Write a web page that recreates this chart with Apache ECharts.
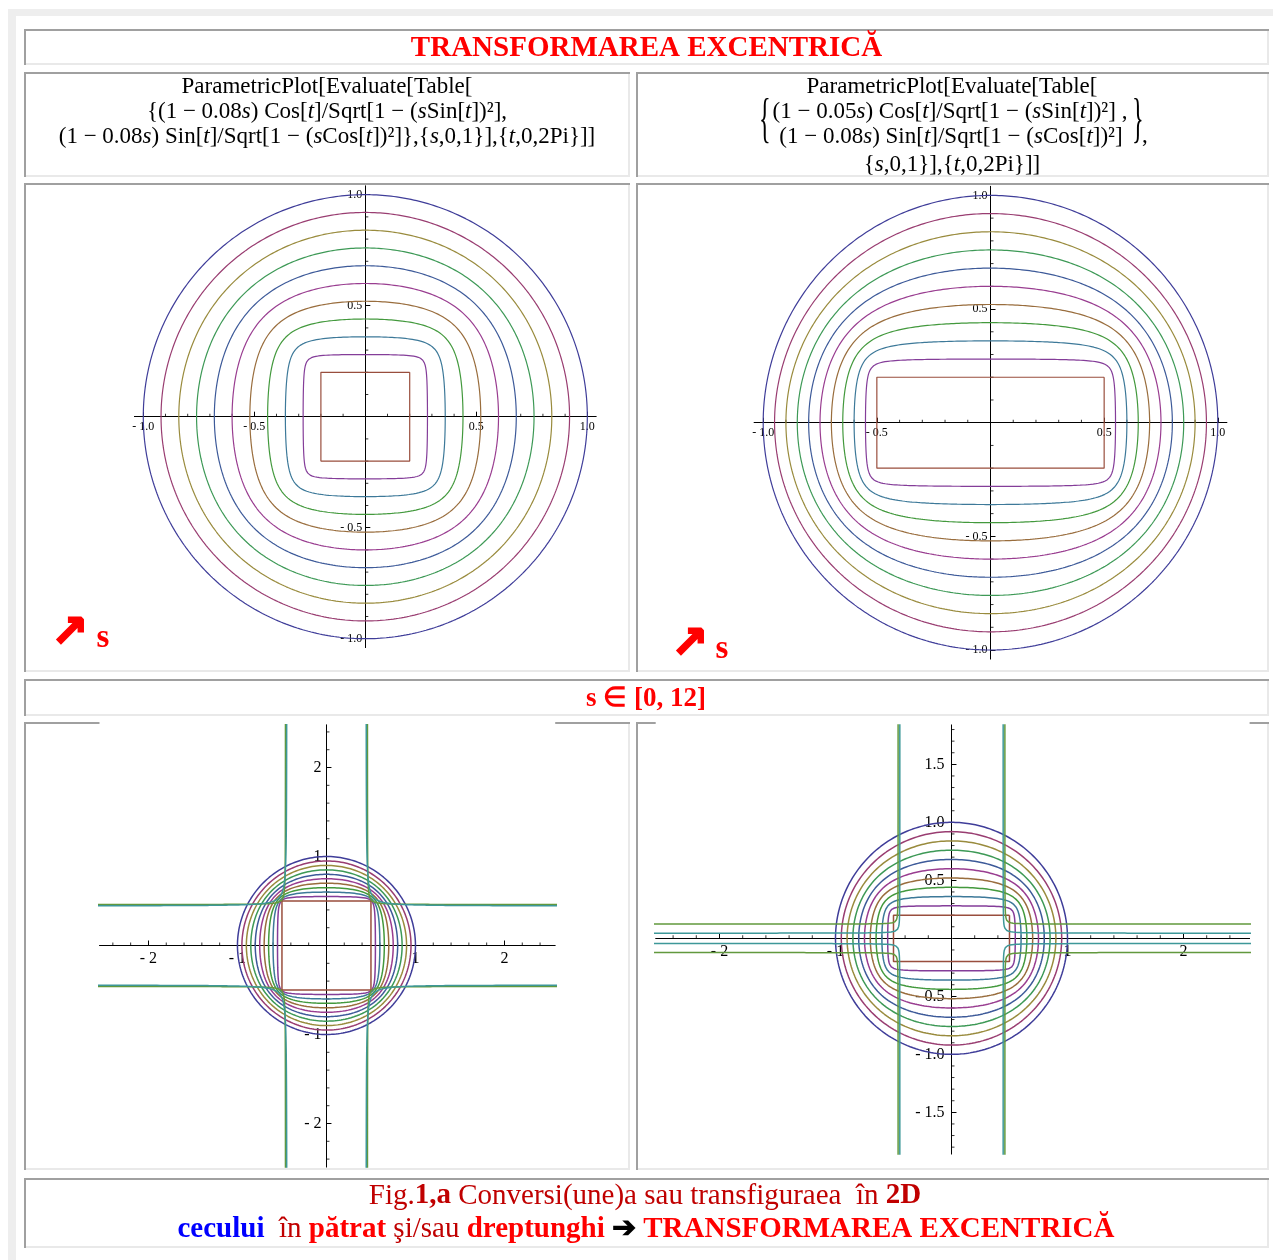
<!DOCTYPE html>
<html>
<head>
<meta charset="utf-8">
<title>Transformarea excentrică</title>
<script src="https://cdn.jsdelivr.net/npm/echarts@6/dist/echarts.min.js"></script>
<style>
  html, body { margin: 0; padding: 0; background: #fff; }
  #chart { width: 1273px; height: 1260px; }
</style>
</head>
<body>
<div id="chart"></div>
<script>
// ---- curve parameters -------------------------------------------------
// values of s drawn in the upper row and in the lower row (s in [0, 12])
const sUpper = [0, 1, 2, 3, 4, 5, 6, 7, 8, 9, 10];
const sLower = [0, 1, 2, 3, 4, 5, 6, 7, 8, 9, 10, 11, 12];
// shrink of the x and y semi-axes per unit of s, panels: TL, TR, BL, BR
const shrinkX = [0.08, 0.05, 0.05, 0.05];
const shrinkY = [0.08, 0.08, 0.05, 0.08];
// plot ranges of each panel
const rangeX = [[-1.04, 1.04], [-1.04, 1.04], [-2.55, 2.57], [-2.55, 2.57]];
const rangeY = [[-1.04, 1.04], [-1.04, 1.04], [-2.49, 2.48], [-1.86, 1.84]];
// labelled ticks
const ticksUpper = [-1.0, -0.5, 0.5, 1.0];
const ticksLowerInt = [-2, -1, 1, 2];
const ticksLowerRightY = [-1.5, -1.0, -0.5, 0.5, 1.0, 1.5];

// default plot colours, one per value of s
const curveColors = ['#3f3d99', '#993d71', '#998b3d', '#3d9956', '#3d5a99', '#993d90', '#996d3d',
                     '#43993d', '#3d7999', '#843d99', '#994e3d', '#62993d', '#3d9899'];

const SERIF = "'Liberation Serif', 'Times New Roman', serif";

// ---- layout -------------------------------------------------------------
const gridBoxes = [
  { left: 134.4, top: 185.8, width: 461.8, height: 461.8 },
  { left: 754.1, top: 186.3, width: 472.8, height: 472.8 },
  { left: 99.5,  top: 724.8, width: 455.7, height: 442.3 },
  { left: 655.7, top: 724.9, width: 593.9, height: 429.2 }
];
const cells = [
  [24, 29, 1245, 36],
  [24, 72, 606, 105], [636, 72, 633, 105],
  [24, 183, 606, 489], [636, 183, 633, 489],
  [24, 679, 1245, 37],
  [24, 722, 606, 448], [636, 722, 633, 448],
  [24, 1178, 1245, 70]
];

// x = (1 - ax s) cos t / sqrt(1 - (k sin t)^2), y = (1 - ay s) sin t / sqrt(1 - (k cos t)^2), k = s/10
function curvePieces(s, ax, ay) {
  const k = s / 10, rx = 1 - ax * s, ry = 1 - ay * s;
  const pt = t => {
    const c = Math.cos(t), si = Math.sin(t);
    return [rx * c / Math.sqrt(1 - (k * si) * (k * si)), ry * si / Math.sqrt(1 - (k * c) * (k * c))];
  };
  if (k <= 1) {
    const N = 1440, pts = [];
    for (let i = 0; i <= N; i++) pts.push(pt(2 * Math.PI * (i + 0.5) / N));
    return [pts];
  }
  // k > 1: the curve is real only on four open arcs, one per quadrant
  const a = Math.acos(1 / k), b = Math.asin(1 / k), M = 900, pieces = [];
  for (let q = 0; q < 4; q++) {
    const pts = [];
    for (let i = 1; i < M; i++) {
      const u = i / M;
      pts.push(pt(q * Math.PI / 2 + a + (b - a) * (1 - Math.cos(Math.PI * u)) / 2));
    }
    pieces.push(pts);
  }
  return pieces;
}

function minorTicks(lo, hi, step, major) {
  const out = [];
  for (let n = Math.ceil(lo / step - 1e-9); n * step <= hi + 1e-9; n++) {
    const v = +(n * step).toFixed(6);
    if (Math.abs(v) < 1e-9) continue;
    if (Math.abs(v / major - Math.round(v / major)) < 1e-6) continue;
    out.push(v);
  }
  return out;
}

const fmt1 = v => (v < 0 ? '- ' : '') + Math.abs(v).toFixed(1);
const fmt0 = v => (v < 0 ? '- ' : '') + Math.abs(v).toFixed(0);

const panels = [
  { s: sUpper, xt: ticksUpper, yt: ticksUpper, xf: fmt1, yf: fmt1, fs: 12, xm: 4, ym: 3, lw: 1.2,
    xminor: minorTicks(-1, 1, 0.1, 0.5), yminor: minorTicks(-1, 1, 0.1, 0.5) },
  { s: sUpper, xt: ticksUpper, yt: ticksUpper, xf: fmt1, yf: fmt1, fs: 12, xm: 4, ym: 3, lw: 1.2,
    xminor: minorTicks(-1, 1, 0.1, 0.5), yminor: minorTicks(-1, 1, 0.1, 0.5) },
  { s: sLower, xt: ticksLowerInt, yt: ticksLowerInt, xf: fmt0, yf: fmt0, fs: 16, xm: 5, ym: 5, lw: 1.5,
    xminor: minorTicks(-2.4, 2.4, 0.2, 1), yminor: minorTicks(-2.4, 2.4, 0.2, 1) },
  { s: sLower, xt: ticksLowerInt, yt: ticksLowerRightY, xf: fmt0, yf: fmt1, fs: 16, xm: 5, ym: 7, lw: 1.5,
    xminor: minorTicks(-2.4, 2.4, 0.2, 1), yminor: minorTicks(-1.8, 1.8, 0.1, 0.5) }
];

// axes cross at the origin: shift each axis from the grid edge onto the zero line
function makeAxis(p, range, ticks, fmt, fs, margin, position, span, otherRange) {
  const toZero = (0 - otherRange[0]) / (otherRange[1] - otherRange[0]) * span;
  return {
    type: 'value', gridIndex: p, min: range[0], max: range[1], z: 3,
    position: position, offset: -toZero,
    axisLine: { show: true, onZero: false, lineStyle: { color: '#000', width: 1 } },
    axisTick: { show: true, inside: true, length: 5, customValues: ticks, lineStyle: { color: '#000', width: 1 } },
    minorTick: { show: false },
    axisLabel: { show: true, customValues: ticks, formatter: fmt, fontFamily: SERIF, fontSize: fs, color: '#000', margin: margin },
    splitLine: { show: false }
  };
}

const xAxis = [], yAxis = [], series = [];
panels.forEach((P, p) => {
  const g = gridBoxes[p];
  xAxis.push(makeAxis(p, rangeX[p], P.xt, P.xf, P.fs, P.xm, 'bottom', g.height, rangeY[p]));
  yAxis.push(makeAxis(p, rangeY[p], P.yt, P.yf, P.fs, P.ym, 'left', g.width, rangeX[p]));
  P.s.forEach((s, i) => {
    curvePieces(s, shrinkX[p], shrinkY[p]).forEach(pts => {
      series.push({
        type: 'line', xAxisIndex: p, yAxisIndex: p, data: pts, z: 4,
        showSymbol: false, symbol: 'none', silent: true, animation: false, clip: true,
        lineStyle: { color: curveColors[i], width: P.lw }, itemStyle: { color: curveColors[i] }
      });
    });
  });
  // minor ticks along both axes
  series.push({
    type: 'scatter', xAxisIndex: p, yAxisIndex: p, z: 3, silent: true, animation: false,
    data: P.xminor.map(v => [v, 0]), symbol: 'rect', symbolSize: [1, 3], symbolOffset: [0, -1.5],
    itemStyle: { color: '#000' }
  });
  series.push({
    type: 'scatter', xAxisIndex: p, yAxisIndex: p, z: 3, silent: true, animation: false,
    data: P.yminor.map(v => [0, v]), symbol: 'rect', symbolSize: [3, 1], symbolOffset: [1.5, 0],
    itemStyle: { color: '#000' }
  });
});

// ---- frame and texts ----------------------------------------------------
function fontOf(st) {
  return `${st.fontStyle || 'normal'} ${st.fontWeight || 'normal'} ${st.fontSize}px ${st.fontFamily}`;
}
function txt(x, y, text, o) {
  const base = { fontFamily: o.family || SERIF, fontSize: o.size, fontWeight: o.weight || 'normal', fontStyle: 'normal' };
  const color = o.color || '#000';
  const rich = {};
  Object.keys(o.rich || {}).forEach(k => {
    const st = Object.assign({}, base, { fill: color }, o.rich[k]);
    st.color = st.fill;
    st.font = fontOf(st);
    rich[k] = st;
  });
  const align = o.align || 'center';
  const style = Object.assign({}, base, {
    text: text, fill: color, font: fontOf(base),
    align: align, textAlign: align, verticalAlign: 'middle', textVerticalAlign: 'middle', rich: rich
  });
  if (o.stroke) { style.stroke = color; style.lineWidth = o.stroke; }
  return { type: 'text', x: x, y: y, z: 10, silent: true, scaleX: o.scaleX || 1, originX: 0, originY: 0, style: style };
}

const elements = [];
// page margin band
elements.push({ type: 'rect', z: 0, silent: true, shape: { x: 8, y: 9, width: 8, height: 1251 }, style: { fill: '#eeeeee' } });
elements.push({ type: 'rect', z: 0, silent: true, shape: { x: 8, y: 9, width: 1265, height: 7 }, style: { fill: '#eeeeee' } });
// inset cell borders
cells.forEach(([x, y, w, h]) => {
  elements.push({ type: 'rect', z: 0, silent: true, shape: { x: x, y: y + h - 2, width: w, height: 2 }, style: { fill: '#e9e9e9' } });
  elements.push({ type: 'rect', z: 0, silent: true, shape: { x: x + w - 2, y: y, width: 2, height: h }, style: { fill: '#e9e9e9' } });
  elements.push({ type: 'rect', z: 0, silent: true, shape: { x: x, y: y, width: w, height: 2 }, style: { fill: '#a0a0a0' } });
  elements.push({ type: 'rect', z: 0, silent: true, shape: { x: x, y: y, width: 2, height: h }, style: { fill: '#a0a0a0' } });
});
// the lower plots sit over the top edge of their cells
[2, 3].forEach(p => {
  const g = gridBoxes[p];
  elements.push({ type: 'rect', z: 1, silent: true,
    shape: { x: g.left, y: 722, width: g.width, height: g.top + g.height - 722 }, style: { fill: '#fff' } });
});

const it = { i: { fontStyle: 'italic' } };
const F = 23;
// title
elements.push(txt(646.5, 49, 'TRANSFORMAREA EXCENTRICĂ', { size: 29, weight: 'bold', color: '#ff0000' }));
// formula, left
elements.push(txt(327, 87, 'ParametricPlot[Evaluate[Table[', { size: F }));
elements.push(txt(327, 112, '{(1 − 0.08{i|s}) Cos[{i|t}]/Sqrt[1 − ({i|s}Sin[{i|t}])²],', { size: F, rich: it }));
elements.push(txt(327, 137, '(1 − 0.08{i|s}) Sin[{i|t}]/Sqrt[1 − ({i|s}Cos[{i|t}])²]},{{i|s},0,1}],{{i|t},0,2Pi}]]', { size: F, rich: it }));
// formula, right
elements.push(txt(952, 87, 'ParametricPlot[Evaluate[Table[', { size: F }));
elements.push(txt(950, 112, '(1 − 0.05{i|s}) Cos[{i|t}]/Sqrt[1 − ({i|s}Sin[{i|t}])²] ,', { size: F, rich: it }));
elements.push(txt(951, 137, '(1 − 0.08{i|s}) Sin[{i|t}]/Sqrt[1 − ({i|s}Cos[{i|t}])²]', { size: F, rich: it }));
elements.push(txt(952, 165, '{{i|s},0,1}],{{i|t},0,2Pi}]]', { size: F, rich: it }));
elements.push(txt(759, 122, '{', { size: 54, align: 'left', scaleX: 0.45 }));
elements.push(txt(1132, 122, '}', { size: 54, align: 'left', scaleX: 0.45 }));
elements.push(txt(1142, 136, ',', { size: F, align: 'left' }));
// increasing-s markers
elements.push(txt(70, 635, '↗', { size: 44, weight: 'bold', color: '#ff0000', stroke: 2, family: "'DejaVu Sans', sans-serif" }));
elements.push(txt(103, 638, 's', { size: 33, weight: 'bold', color: '#ff0000' }));
elements.push(txt(690, 646, '↗', { size: 44, weight: 'bold', color: '#ff0000', stroke: 2, family: "'DejaVu Sans', sans-serif" }));
elements.push(txt(722, 649.5, 's', { size: 33, weight: 'bold', color: '#ff0000' }));
// s range
elements.push(txt(646, 699, 's ∈ [0, 12]', { size: 27, weight: 'bold', color: '#ff0000' }));
// caption
const capRich = {
  n: { fill: '#c00000' },
  nb: { fill: '#c00000', fontWeight: 'bold' },
  b: { fill: '#0000ff', fontWeight: 'bold' },
  r: { fill: '#ff0000', fontWeight: 'bold' },
  k: { fill: '#000000', fontWeight: 'bold' }
};
elements.push(txt(645, 1196, '{n|Fig.}{nb|1,a}{n| Conversi(une)a sau transfiguraea \u00a0în }{nb|2D}', { size: 29, color: '#c00000', rich: capRich }));
elements.push(txt(646, 1229.5, '{b|cecului}{n| \u00a0în }{r|pătrat}{n| şi/sau }{r|dreptunghi}{k| ➔ }{r|TRANSFORMAREA EXCENTRICĂ}', { size: 29, color: '#c00000', rich: capRich }));

const chart = echarts.init(document.getElementById('chart'), null, { renderer: 'canvas', width: 1273, height: 1260 });
chart.setOption({
  backgroundColor: '#fff',
  animation: false,
  grid: gridBoxes.map(g => Object.assign({ show: false, containLabel: false, outerBoundsMode: 'none' }, g)),
  xAxis: xAxis,
  yAxis: yAxis,
  series: series,
  graphic: { elements: elements }
});
</script>
</body>
</html>
